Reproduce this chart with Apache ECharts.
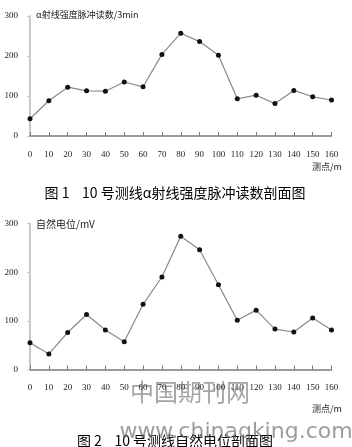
<!DOCTYPE html>
<html>
<head>
<meta charset="utf-8">
<script src="https://cdn.jsdelivr.net/npm/echarts@6/dist/echarts.min.js"></script>
<style>
  html, body { margin: 0; padding: 0; background: #fff; }
  #chart { width: 352px; height: 447px; }
</style>
</head>
<body>
<div id="chart"></div>
<script>
// 测点 (m)
const stations = [0, 10, 20, 30, 40, 50, 60, 70, 80, 90, 100, 110, 120, 130, 140, 150, 160]
// 图1 α射线强度脉冲读数 /3min
const alphaCounts = [43, 88, 122, 113, 112, 135, 123, 204, 257, 236, 202, 93, 102, 81, 114, 98, 90]
// 图2 自然电位 /mV
const selfPotential = [55, 32, 76, 113, 81, 57, 134, 190, 274, 246, 174, 101, 122, 83, 77, 106, 81]
const yTicks = [0, 100, 200, 300]

const serif = '"Liberation Serif", "DejaVu Serif", serif'
const cjk = '"Noto Sans CJK SC", sans-serif'

const chart = echarts.init(document.getElementById('chart'))

function pairs(vals) {
  return stations.map((s, i) => [s, vals[i]])
}

function xAxisOf(gridIndex) {
  return {
    type: 'value',
    gridIndex: gridIndex,
    min: 0,
    max: 160,
    interval: 10,
    axisLine: { lineStyle: { color: '#7a7a7a', width: 1.5 } },
    axisTick: { inside: true, length: 4, lineStyle: { color: '#7a7a7a' } },
    axisLabel: { color: '#222', fontFamily: serif, fontSize: 9, margin: 14 },
    splitLine: { show: false }
  }
}

function yAxisOf(gridIndex) {
  return {
    type: 'value',
    gridIndex: gridIndex,
    min: yTicks[0],
    max: yTicks[yTicks.length - 1],
    interval: 100,
    axisLine: { show: true, lineStyle: { color: '#c8c8c8', width: 2 } },
    axisTick: { show: true, length: 3, lineStyle: { color: '#c8c8c8' } },
    axisLabel: { color: '#222', fontFamily: serif, fontSize: 9, margin: 12 },
    splitLine: { show: false }
  }
}

function lineOf(idx, vals) {
  return {
    type: 'line',
    xAxisIndex: idx,
    yAxisIndex: idx,
    data: pairs(vals),
    symbol: 'circle',
    symbolSize: 5,
    itemStyle: { color: '#111' },
    lineStyle: { color: '#8a8a8a', width: 1.2 },
    animation: false
  }
}

chart.setOption({
  animation: false,
  grid: [
    { left: 30, right: 20.5, top: 16, bottom: 311 },
    { left: 30, right: 20.5, top: 223.5, bottom: 77.5 }
  ],
  xAxis: [xAxisOf(0), xAxisOf(1)],
  yAxis: [yAxisOf(0), yAxisOf(1)],
  series: [lineOf(0, alphaCounts), lineOf(1, selfPotential)],
  graphic: [
    { type: 'text', left: 36, top: 10, style: { text: 'α射线强度脉冲读数/3min', fontFamily: cjk, fontSize: 9, fill: '#222' } },
    { type: 'text', left: 312, top: 162, style: { text: '测点/m', fontFamily: cjk, fontSize: 9, fill: '#222' } },
    { type: 'text', left: 36, top: 219, style: { text: '自然电位/mV', fontFamily: cjk, fontSize: 10, fill: '#222' } },
    { type: 'text', left: 312, top: 404, style: { text: '测点/m', fontFamily: cjk, fontSize: 9, fill: '#222' } },
    { type: 'text', x: 175, y: 193, style: { text: '图 1    10 号测线α射线强度脉冲读数剖面图', fontFamily: cjk, fontSize: 14, fill: '#000', align: 'center', verticalAlign: 'middle' } },
    { type: 'text', x: 175, y: 441, style: { text: '图 2    10 号测线自然电位剖面图', fontFamily: cjk, fontSize: 14, fill: '#000', align: 'center', verticalAlign: 'middle' } },
    { type: 'text', x: 190, y: 392, z: 10, style: { text: '中国期刊网', fontFamily: cjk, fontSize: 24, fill: 'rgba(90,90,90,0.55)', align: 'center', verticalAlign: 'middle' } },
    { type: 'text', x: 236, y: 432, z: 10, style: { text: 'www.chinaqking.com', fontFamily: '"DejaVu Sans", sans-serif', fontSize: 22, fill: 'rgba(90,90,90,0.6)', align: 'center', verticalAlign: 'middle' } }
  ]
})
</script>
</body>
</html>
